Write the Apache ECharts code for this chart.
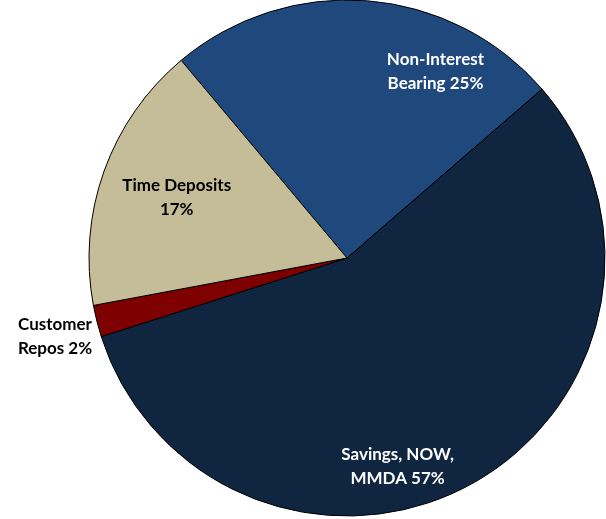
<!DOCTYPE html>
<html>
<head>
<meta charset="utf-8">
<script src="https://cdn.jsdelivr.net/npm/echarts@6/dist/echarts.min.js"></script>
<style>
  html, body { margin: 0; padding: 0; background: #ffffff; }
  #chart { width: 606px; height: 519px; }
</style>
</head>
<body>
<div id="chart"></div>
<script>
// Deposit mix, clockwise from the Non-Interest Bearing slice
const categories = ['Non-Interest\nBearing', 'Savings, NOW,\nMMDA', 'Customer\nRepos', 'Time Deposits'];
const shares = [25, 57, 2, 17];
const sliceColors = ['#1F497D', '#10253F', '#7F0000', '#C4BD97'];
const labelColors = ['#ffffff', '#ffffff', '#000000', '#000000'];
// label nudges from the default inside position
const labelShift = [[78, -55], [-14, 93], [-164, 46], [-46, -16]];

const chart = echarts.init(document.getElementById('chart'));
chart.setOption({
  animation: false,
  series: [{
    type: 'pie',
    center: [347, 258],
    radius: 258,
    startAngle: 130,
    clockwise: true,
    data: categories.map((name, i) => ({
      name: name,
      value: shares[i],
      itemStyle: { color: sliceColors[i] },
      label: { color: labelColors[i] }
    })),
    itemStyle: { borderColor: '#000000', borderWidth: 1 },
    label: {
      show: true,
      position: 'inside',
      fontFamily: 'Lato',
      fontWeight: 'bold',
      fontSize: 17,
      lineHeight: 24,
      align: 'center',
      // Time Deposits puts its percentage on its own line
      formatter: p => p.name + (p.dataIndex === 3 ? '\n' : ' ') + p.value + '%'
    },
    labelLine: { show: false },
    labelLayout: p => ({ dx: labelShift[p.dataIndex][0], dy: labelShift[p.dataIndex][1] }),
    emphasis: { disabled: true }
  }]
});
</script>
</body>
</html>
